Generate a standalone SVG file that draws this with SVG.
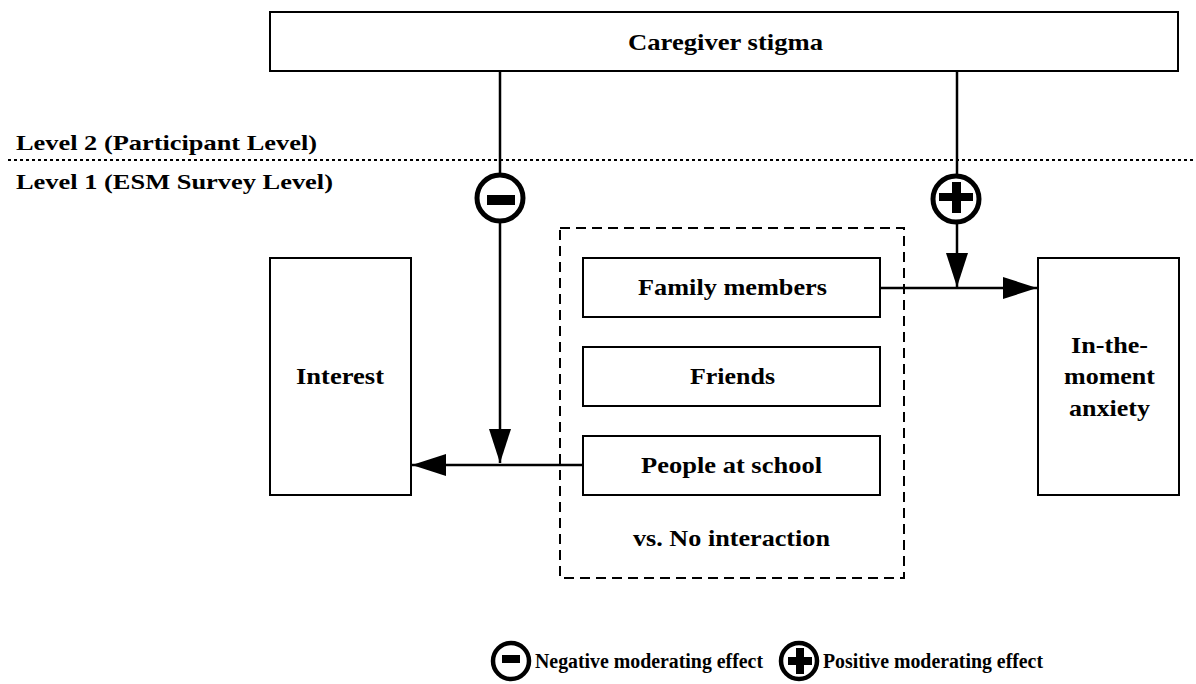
<svg xmlns="http://www.w3.org/2000/svg" width="1196" height="684" viewBox="0 0 1196 684">
<defs>
<marker id="ah" viewBox="0 0 34 22" refX="34" refY="11" markerWidth="34" markerHeight="22" markerUnits="userSpaceOnUse" orient="auto">
<path d="M0,0 L34,11 L0,22 Z" fill="#000"/>
</marker>
</defs>
<style>
text{font-family:"Liberation Serif","Times New Roman",serif;font-weight:bold;fill:#000}
.box{fill:#fff;stroke:#000;stroke-width:2}
.t{font-size:23px}
.lvl{font-size:21px}
.leg{font-size:20px}
.ln{stroke:#000;stroke-width:2.5;fill:none}
.circ{fill:#fff;stroke:#000;stroke-width:5}
</style>
<rect width="1196" height="684" fill="#fff"/>
<g id="levels">
<line x1="8" y1="160" x2="1196" y2="160" stroke="#000" stroke-width="2" stroke-dasharray="3,3"/>
<text class="lvl" x="16" y="150" textLength="301" lengthAdjust="spacingAndGlyphs">Level 2 (Participant Level)</text>
<text class="lvl" x="16" y="189" textLength="317" lengthAdjust="spacingAndGlyphs">Level 1 (ESM Survey Level)</text>
</g>
<g id="connectors">
<line class="ln" x1="500" y1="71" x2="500" y2="463" marker-end="url(#ah)"/>
<line class="ln" x1="957" y1="71" x2="957" y2="287" marker-end="url(#ah)"/>
<line class="ln" x1="880" y1="288" x2="1037" y2="288" marker-end="url(#ah)"/>
<line class="ln" x1="583" y1="465" x2="412" y2="465" marker-end="url(#ah)"/>
</g>
<g id="caregiver">
<rect class="box" x="270" y="12" width="908" height="59"/>
<text class="t" x="628" y="50" textLength="195" lengthAdjust="spacingAndGlyphs">Caregiver stigma</text>
</g>
<g id="neg-mod">
<circle class="circ" cx="500" cy="198" r="23"/>
<rect x="487" y="195" width="28" height="10" fill="#000"/>
</g>
<g id="pos-mod">
<circle class="circ" cx="956" cy="199" r="23"/>
<rect x="939" y="193" width="34" height="8" fill="#000"/>
<rect x="952" y="182" width="9" height="31" fill="#000"/>
</g>
<g id="interest">
<rect class="box" x="270" y="258" width="141" height="237"/>
<text class="t" x="296" y="384" textLength="88" lengthAdjust="spacingAndGlyphs">Interest</text>
</g>
<g id="anxiety">
<rect class="box" x="1038" y="258" width="141" height="237"/>
<text class="t" x="1071" y="353" textLength="77" lengthAdjust="spacingAndGlyphs">In-the-</text>
<text class="t" x="1064" y="384" textLength="91" lengthAdjust="spacingAndGlyphs">moment</text>
<text class="t" x="1069" y="416" textLength="81" lengthAdjust="spacingAndGlyphs">anxiety</text>
</g>
<g id="interaction-group">
<rect x="560" y="228" width="344" height="350" fill="none" stroke="#000" stroke-width="2" stroke-dasharray="10,6"/>
<text class="t" x="633" y="546" textLength="197" lengthAdjust="spacingAndGlyphs">vs. No interaction</text>
</g>
<g id="family">
<rect class="box" x="583" y="258" width="297" height="59"/>
<text class="t" x="638" y="295" textLength="189" lengthAdjust="spacingAndGlyphs">Family members</text>
</g>
<g id="friends">
<rect class="box" x="583" y="347" width="297" height="59"/>
<text class="t" x="690" y="384" textLength="85" lengthAdjust="spacingAndGlyphs">Friends</text>
</g>
<g id="school">
<rect class="box" x="583" y="436" width="297" height="59"/>
<text class="t" x="641" y="473" textLength="181" lengthAdjust="spacingAndGlyphs">People at school</text>
</g>
<g id="legend">
<circle cx="511" cy="661" r="18" fill="#fff" stroke="#000" stroke-width="4.5"/>
<rect x="502" y="655" width="18" height="8" fill="#000"/>
<text class="leg" x="535" y="668" textLength="228" lengthAdjust="spacingAndGlyphs">Negative moderating effect</text>
<circle cx="799" cy="661" r="18" fill="#fff" stroke="#000" stroke-width="4.5"/>
<rect x="788" y="657" width="24" height="8" fill="#000"/>
<rect x="796" y="648" width="8" height="26" fill="#000"/>
<text class="leg" x="823" y="668" textLength="220" lengthAdjust="spacingAndGlyphs">Positive moderating effect</text>
</g>
</svg>
